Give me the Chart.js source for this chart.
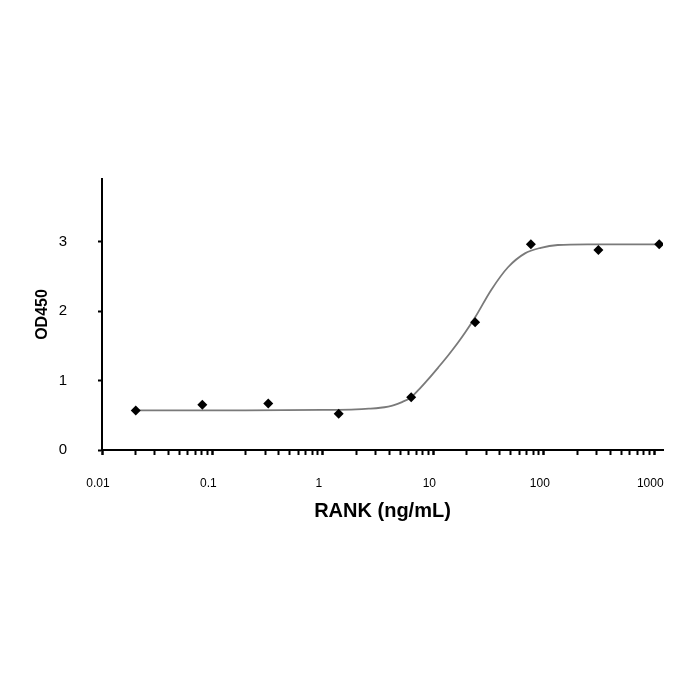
<!DOCTYPE html>
<html>
<head>
<meta charset="utf-8">
<script src="https://cdn.jsdelivr.net/npm/chart.js@4.4.1/dist/chart.umd.min.js"></script>
<style>
  body { margin: 0; background: #ffffff; }
  #curveChart { display: block; }
</style>
</head>
<body>
<canvas id="curveChart" width="700" height="700"></canvas>
<script>
// measured points (RANK ng/mL vs OD450)
var rankConc = [0.0202, 0.081, 0.32, 1.39, 6.3, 23.9, 76.4, 312, 1109];
var od450 = [0.57, 0.65, 0.67, 0.52, 0.76, 1.84, 2.96, 2.88, 2.96];

// fitted curve
var fitConc = [0.0202, 0.2, 1.0, 2.0, 2.6, 3.3, 3.9, 4.4, 5.2, 6.2, 7.3, 9.0, 11.1, 13.6, 16.8, 19.4, 23.9, 33.3, 47.4, 67.5, 94, 134, 250, 1109];
var fitOd = [0.57, 0.57, 0.577, 0.585, 0.595, 0.608, 0.625, 0.645, 0.69, 0.75, 0.86, 1.02, 1.19, 1.36, 1.55, 1.69, 1.91, 2.30, 2.63, 2.83, 2.91, 2.95, 2.96, 2.96];

// axis ticks
var decades = [0.01, 0.1, 1, 10, 100, 1000];
var xTickLabels = ['0.01', '0.1', '1', '10', '100', '1000'];
var yTicks = [0, 1, 2, 3];

var fitPoints = [];
for (var i = 0; i < fitConc.length; i++) {
    fitPoints.push({x: fitConc[i], y: fitOd[i]});
}
var dataPoints = [];
for (var j = 0; j < rankConc.length; j++) {
    dataPoints.push({x: rankConc[j], y: od450[j]});
}

var ctx = document.getElementById('curveChart');

var curveChart = new Chart(ctx, {
    type: 'scatter',
    data: {
        datasets: [
            {
                label: 'fit',
                type: 'line',
                data: fitPoints,
                showLine: true,
                fill: false,
                borderColor: '#7a7a7a',
                borderWidth: 1.8,
                pointRadius: 0,
                cubicInterpolationMode: 'monotone',
                order: 2
            },
            {
                label: 'OD450',
                data: dataPoints,
                pointStyle: 'rectRot',
                pointRadius: 5,
                backgroundColor: '#000000',
                borderColor: '#000000',
                borderWidth: 0,
                order: 1
            }
        ]
    },
    options: {
        responsive: false,
        animation: false,
        layout: {
            padding: {top: 179, right: 37, bottom: 0, left: 0}
        },
        plugins: {
            legend: {display: false},
            tooltip: {enabled: false}
        },
        scales: {
            x: {
                type: 'logarithmic',
                min: 0.01,
                max: 1200,
                afterBuildTicks: function(scale) {
                    var t = [];
                    for (var d = 0; d < decades.length - 1; d++) {
                        for (var m = 1; m <= 9; m++) {
                            t.push({value: m * decades[d]});
                        }
                    }
                    t.push({value: decades[decades.length - 1]});
                    scale.ticks = t;
                },
                afterFit: function(scale) {
                    scale.height = 250;
                },
                grid: {
                    drawOnChartArea: false,
                    drawTicks: true,
                    tickLength: 5,
                    tickColor: '#000000',
                    tickWidth: function(c) {
                        return decades.indexOf(c.tick && c.tick.value) >= 0 ? 2.5 : 2;
                    }
                },
                border: {display: true, color: '#000000', width: 2},
                ticks: {
                    autoSkip: false,
                    maxRotation: 0,
                    padding: 21,
                    labelOffset: -4,
                    color: '#000000',
                    font: {family: '"Liberation Sans", Arial, sans-serif', size: 12},
                    callback: function(value) {
                        var k = decades.indexOf(value);
                        return k >= 0 ? xTickLabels[k] : '';
                    }
                },
                title: {
                    display: true,
                    text: 'RANK (ng/mL)',
                    color: '#000000',
                    font: {family: '"Liberation Sans", Arial, sans-serif', size: 20, weight: 'bold'},
                    padding: {top: 0, bottom: 177}
                }
            },
            y: {
                type: 'linear',
                min: 0,
                max: 3.9,
                afterBuildTicks: function(scale) {
                    scale.ticks = yTicks.map(function(v) { return {value: v}; });
                },
                afterFit: function(scale) {
                    scale.width = 102;
                },
                grid: {
                    drawOnChartArea: false,
                    drawTicks: true,
                    tickLength: 4,
                    tickColor: '#000000',
                    tickWidth: 2
                },
                border: {display: true, color: '#000000', width: 2},
                ticks: {
                    padding: 31,
                    color: '#000000',
                    font: {family: '"Liberation Sans", Arial, sans-serif', size: 15}
                },
                title: {
                    display: true,
                    text: 'OD450',
                    color: '#000000',
                    font: {family: '"Liberation Sans", Arial, sans-serif', size: 16, weight: 'bold'},
                    padding: {top: 33, bottom: 0}
                }
            }
        }
    }
});
</script>
</body>
</html>
